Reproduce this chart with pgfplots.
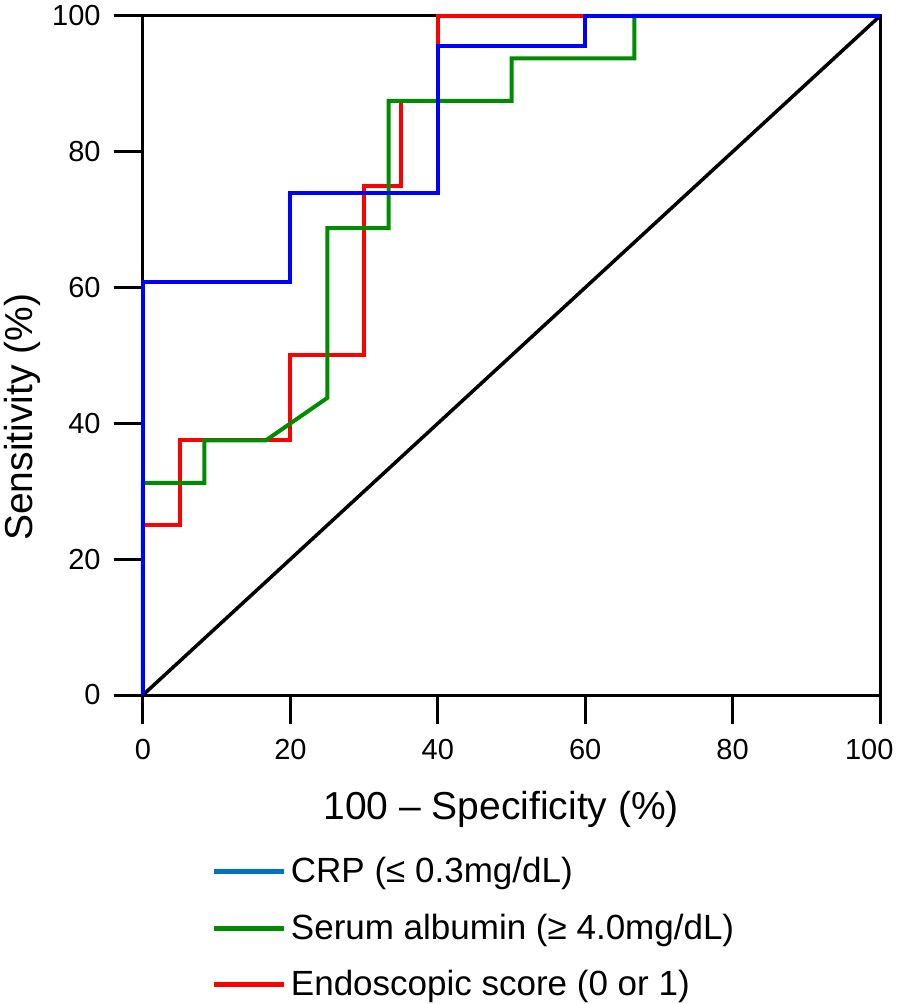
\documentclass[border=0pt]{standalone}
\usepackage{fontspec}
\setmainfont{Liberation Sans}
\usepackage{pgfplots}
\pgfplotsset{compat=1.18}
\definecolor{crpblue}{RGB}{0,0,255}
\definecolor{albgreen}{RGB}{0,140,0}
\definecolor{endred}{RGB}{255,0,0}
\definecolor{legblue}{RGB}{0,112,192}
\begin{document}
\begin{tikzpicture}
\begin{axis}[
  at={(0pt,0pt)}, anchor=south west,
  scale only axis, width=368.5pt, height=339.5pt,
  xmin=0, xmax=100, ymin=0, ymax=100,
  xtick={0,20,...,100}, ytick={0,20,...,100},
  xticklabels={0,20,40,60,80,\makebox[35pt][l]{100}},
  tick align=outside, xtick pos=bottom, ytick pos=left,
  major tick length=14.5pt,
  axis line style={line width=1.5pt},
  every tick/.style={line width=1.5pt, black},
  /pgf/number format/assume math mode=true,
  tick label style={font=\fontsize{14.5}{16}\selectfont},
  xticklabel style={anchor=north, inner sep=0pt, yshift=-7.5pt},
  yticklabel style={anchor=east, inner sep=0pt, xshift=-6.5pt},
  xlabel={100 – Specificity (\%)},
  ylabel={Sensitivity (\%)},
  label style={font=\fontsize{19.5}{22}\selectfont},
  xlabel style={at={(rel axis cs:0.486,-0.168)}, anchor=center},
  ylabel style={at={(rel axis cs:-0.164,0.409)}, anchor=center, rotate=0},
  legend style={draw=none, fill=none, at={(rel axis cs:0.093,-0.233)}, anchor=north west,
    font=\fontsize{17.5}{20}\selectfont, inner sep=0pt, row sep=10pt,
    nodes={inner sep=2pt}},
  legend cell align=left,
  legend image code/.code={\draw[line width=2.5pt] (0pt,0pt) -- (35pt,0pt);},
  clip=false,
]
\addplot[black, line width=1.75pt, forget plot] coordinates {(0,0) (100,100)};
\addplot[endred, line width=2pt, forget plot] coordinates {
(0,0) (0,25) (5,25) (5,37.5) (20,37.5) (20,50) (30,50) (30,75) (35,75) (35,87.5) (40,87.5) (40,100) (100,100)};
\addplot[albgreen, line width=2pt, forget plot] coordinates {
(0,0) (0,31.25) (8.33,31.25) (8.33,37.5) (16.67,37.5) (25,43.75) (25,68.75) (33.33,68.75) (33.33,87.5) (50,87.5) (50,93.75) (66.67,93.75) (66.67,100) (100,100)};
\addplot[crpblue, line width=2pt, forget plot] coordinates {
(0,0) (0,60.87) (20,60.87) (20,73.91) (40,73.91) (40,95.65) (60,95.65) (60,100) (100,100)};
\addlegendimage{legblue}
\addlegendentry{CRP (≤ 0.3mg/dL)}
\addlegendimage{albgreen}
\addlegendentry{Serum albumin (≥ 4.0mg/dL)}
\addlegendimage{endred}
\addlegendentry{Endoscopic score (0 or 1)}
\end{axis}
\pgfresetboundingbox
\path[use as bounding box] (-71.5pt,-154.5pt) rectangle (376.5pt,347.5pt);
\end{tikzpicture}
\end{document}
